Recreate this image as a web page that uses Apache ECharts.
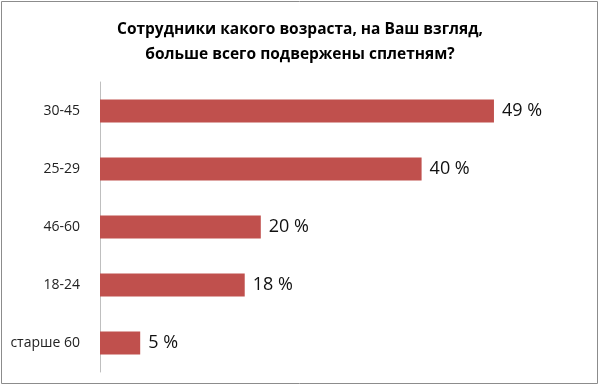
<!DOCTYPE html>
<html>
<head>
<meta charset="utf-8">
<script src="https://cdn.jsdelivr.net/npm/echarts@6/dist/echarts.min.js"></script>
<style>
html,body{margin:0;padding:0;background:#fff;}
#chart{width:600px;height:386px;}
</style>
</head>
<body>
<div id="chart"></div>
<script>
const categories = ['30-45', '25-29', '46-60', '18-24', 'старше 60'];
const values = [49, 40, 20, 18, 5];
const titleText = 'Сотрудники какого возраста, на Ваш взгляд,\nбольше всего подвержены сплетням?';

const chart = echarts.init(document.getElementById('chart'));
chart.setOption({
  animation: false,
  backgroundColor: '#fff',
  title: {
    text: titleText,
    left: 'center',
    top: 12,
    textStyle: {
      fontFamily: 'Open Sans',
      fontWeight: 'bold',
      fontSize: 15.5,
      lineHeight: 25,
      color: '#000'
    }
  },
  graphic: [{
    type: 'rect',
    shape: {x: 1.5, y: 1.5, width: 596, height: 382},
    style: {fill: 'none', stroke: '#8c8c8c', lineWidth: 1},
    silent: true
  }],
  grid: {left: 100, right: 17.6, top: 82, bottom: 14, containLabel: false},
  xAxis: {
    type: 'value',
    min: 0,
    max: 60,
    show: false
  },
  yAxis: {
    type: 'category',
    data: categories,
    inverse: true,
    axisLine: {show: true, lineStyle: {color: '#bfbfbf', width: 1}},
    axisTick: {show: false},
    axisLabel: {
      margin: 20,
      fontFamily: 'Open Sans',
      fontSize: 14,
      color: '#222'
    }
  },
  series: [{
    type: 'bar',
    data: values,
    barWidth: 23,
    itemStyle: {color: '#C0504D'},
    label: {
      show: true,
      position: 'right',
      distance: 8,
      formatter: p => p.value + ' %',
      fontFamily: 'Open Sans',
      fontSize: 18,
      color: '#111'
    }
  }]
});
</script>
</body>
</html>
